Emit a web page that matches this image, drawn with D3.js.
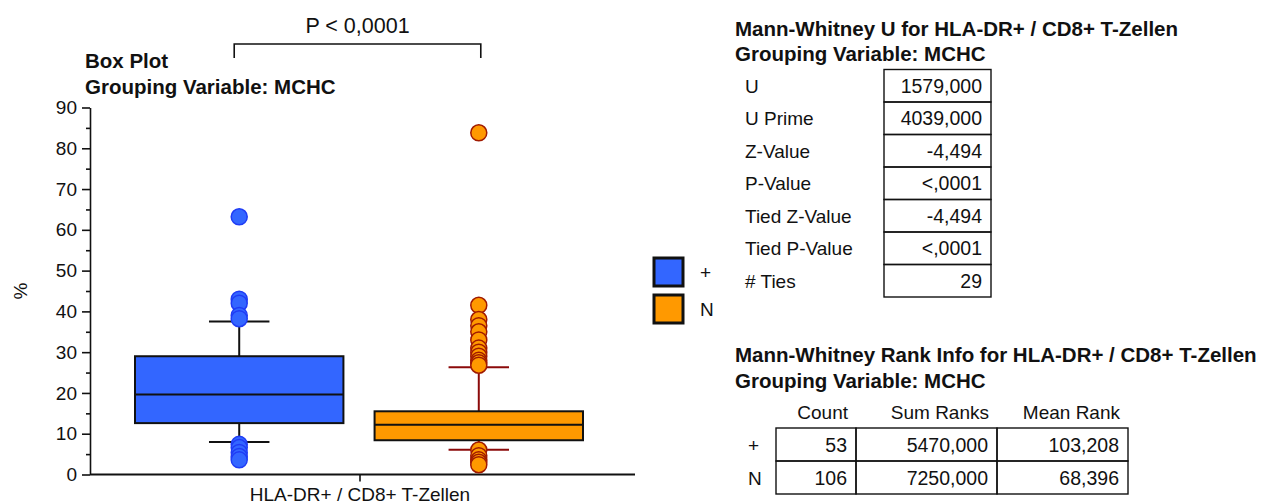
<!DOCTYPE html>
<html>
<head>
<meta charset="utf-8">
<script src="https://cdn.jsdelivr.net/npm/d3@7"></script>
<style>
  body { margin: 0; background: #fff; }
  svg { display: block; }
  text { font-family: "Liberation Sans", Arial, sans-serif; fill: #111; }
  .bold { font-weight: bold; font-size: 20.5px; }
</style>
</head>
<body>
<svg id="chart" width="1270" height="504"></svg>
<script>
// ---- Box plot data (HLA-DR+ / CD8+ T-Zellen, grouped by MCHC) ----
const groups = ["+", "N"];
const q1 = [12.6, 8.4];
const medians = [19.6, 12.2];
const q3 = [29.0, 15.5];
const whiskerLow = [8.0, 6.1];
const whiskerHigh = [37.5, 26.3];
const outliersPlus = [63.2, 43.0, 42.0, 39.0, 38.2, 7.4, 6.6, 5.4, 4.4, 3.6];
const outliersN = [83.8, 41.5, 38.0, 36.5, 35.0, 33.0, 31.0, 30.0, 29.0, 28.0, 27.4, 26.8,
                   6.0, 4.6, 3.6, 3.0, 2.4];
const yTicks = [0, 10, 20, 30, 40, 50, 60, 70, 80, 90];
const yMinorTicks = [5, 15, 25, 35, 45, 55, 65, 75, 85];
const category = "HLA-DR+ / CD8+ T-Zellen";
const pLabel = "P < 0,0001";

// ---- Mann-Whitney U table ----
const statLabels = ["U", "U Prime", "Z-Value", "P-Value", "Tied Z-Value", "Tied P-Value", "# Ties"];
const statValues = ["1579,000", "4039,000", "-4,494", "<,0001", "-4,494", "<,0001", "29"];

// ---- Rank info table ----
const rankHeaders = ["Count", "Sum Ranks", "Mean Rank"];
const rankCounts = ["53", "106"];
const rankSums = ["5470,000", "7250,000"];
const rankMeans = ["103,208", "68,396"];

const fills = ["#3366ff", "#ff9900"];
const dotStroke = ["#1f3cf5", "#a01a00"];
const whiskerColor = ["#111", "#8b0a0a"];

const svg = d3.select("#chart");

// ---------- scales ----------
const y = d3.scaleLinear().domain([0, 90]).range([474.5, 107.5]);
const xCat = d3.scaleBand().domain([category]).range([90, 630]);
const x = d3.scaleBand().domain(groups).range([135, 583]).paddingInner(0.13);
const capW = x.bandwidth() * 0.29;

// ---------- titles ----------
svg.append("text").attr("class", "bold").attr("x", 85).attr("y", 68).text("Box Plot");
svg.append("text").attr("class", "bold").attr("x", 85).attr("y", 94).text("Grouping Variable: MCHC");

// ---------- y axis ----------
const yAxis = svg.append("g").attr("transform", "translate(90,0)")
  .call(d3.axisLeft(y).tickValues(yTicks).tickSize(8).tickSizeOuter(0).tickPadding(5));
yAxis.selectAll("text").style("font-size", "19px").attr("fill", "#111");
yAxis.selectAll("line,path").attr("stroke", "#111").attr("stroke-width", 1.6);
const yMinor = svg.append("g").attr("transform", "translate(90,0)")
  .call(d3.axisLeft(y).tickValues(yMinorTicks).tickSize(4).tickFormat(""));
yMinor.select("path").remove();
yMinor.selectAll("line").attr("stroke", "#111").attr("stroke-width", 1.6);

svg.append("text").attr("transform", "translate(27,291) rotate(-90)")
  .attr("text-anchor", "middle").style("font-size", "19px").text("%");

// ---------- x axis ----------
const xAxis = svg.append("g").attr("transform", `translate(0,${y(0)})`)
  .call(d3.axisBottom(xCat).tickSize(7).tickSizeOuter(0).tickPadding(6));
xAxis.select("path").remove();
xAxis.selectAll("line").attr("stroke", "#111").attr("stroke-width", 1.6);
xAxis.selectAll("text").style("font-size", "19px").attr("fill", "#111");
svg.append("line").attr("x1", 90).attr("x2", 635).attr("y1", y(0)).attr("y2", y(0))
  .attr("stroke", "#111").attr("stroke-width", 2);

// ---------- boxes ----------
const boxes = groups.map((g, i) => ({
  g, i, q1: q1[i], med: medians[i], q3: q3[i], lo: whiskerLow[i], hi: whiskerHigh[i]
}));
const bg = svg.append("g").selectAll("g").data(boxes).join("g");
const cx = d => x(d.g) + x.bandwidth() / 2;

// whisker stems
bg.append("line").attr("x1", cx).attr("x2", cx)
  .attr("y1", d => y(d.hi)).attr("y2", d => y(d.q3))
  .attr("stroke", d => whiskerColor[d.i]).attr("stroke-width", 2);
bg.append("line").attr("x1", cx).attr("x2", cx)
  .attr("y1", d => y(d.q1)).attr("y2", d => y(d.lo))
  .attr("stroke", d => whiskerColor[d.i]).attr("stroke-width", 2);
// caps
["hi", "lo"].forEach(k => {
  bg.append("line").attr("x1", d => cx(d) - capW / 2).attr("x2", d => cx(d) + capW / 2)
    .attr("y1", d => y(d[k])).attr("y2", d => y(d[k]))
    .attr("stroke", d => whiskerColor[d.i]).attr("stroke-width", 2);
});
// box
bg.append("rect").attr("x", d => x(d.g)).attr("width", x.bandwidth())
  .attr("y", d => y(d.q3)).attr("height", d => y(d.q1) - y(d.q3))
  .attr("fill", d => fills[d.i]).attr("stroke", "#111").attr("stroke-width", 2);
// median
bg.append("line").attr("x1", d => x(d.g)).attr("x2", d => x(d.g) + x.bandwidth())
  .attr("y1", d => y(d.med)).attr("y2", d => y(d.med))
  .attr("stroke", "#111").attr("stroke-width", 2);

// outliers
const outlierPts = [
  ...outliersPlus.map(v => ({ g: groups[0], i: 0, v })),
  ...outliersN.map(v => ({ g: groups[1], i: 1, v }))
];
svg.append("g").selectAll("circle").data(outlierPts).join("circle")
  .attr("cx", d => x(d.g) + x.bandwidth() / 2).attr("cy", d => y(d.v)).attr("r", 8)
  .attr("fill", d => fills[d.i]).attr("stroke", d => dotStroke[d.i]).attr("stroke-width", 1.5);

// ---------- significance bracket ----------
const bx1 = x(groups[0]) + x.bandwidth() / 2 - 5;
const bx2 = x(groups[1]) + x.bandwidth() / 2 + 2;
svg.append("path").attr("d", `M${bx1},58V44H${bx2}V58`)
  .attr("fill", "none").attr("stroke", "#111").attr("stroke-width", 1.6);
svg.append("text").attr("x", (bx1 + bx2) / 2).attr("y", 33).attr("text-anchor", "middle")
  .style("font-size", "21.5px").text(pLabel);

// ---------- legend ----------
const lg = svg.append("g").selectAll("g").data(groups).join("g")
  .attr("transform", (d, i) => `translate(654,${258 + i * 37})`);
lg.append("rect").attr("width", 29).attr("height", 28)
  .attr("fill", (d, i) => fills[i]).attr("stroke", "#111").attr("stroke-width", 3);
lg.append("text").attr("x", 46).attr("y", 21).style("font-size", "19px").text(d => d);

// ---------- Mann-Whitney U table ----------
const t1 = svg.append("g");
t1.append("text").attr("class", "bold").attr("x", 735).attr("y", 36)
  .text("Mann-Whitney U for " + category);
t1.append("text").attr("class", "bold").attr("x", 735).attr("y", 61)
  .text("Grouping Variable: MCHC");
const rowH = 32.5, t1Top = 69.5, vx0 = 884, vx1 = 991;
const rows1 = t1.selectAll("g.row").data(statLabels).join("g")
  .attr("class", "row").attr("transform", (d, i) => `translate(0,${t1Top + i * rowH})`);
rows1.append("rect").attr("x", vx0).attr("width", vx1 - vx0).attr("height", rowH)
  .attr("fill", "none").attr("stroke", "#111").attr("stroke-width", 1.4);
rows1.append("text").attr("x", 745).attr("y", rowH / 2 + 7).style("font-size", "19px").text(d => d);
rows1.append("text").attr("x", vx1 - 9).attr("y", rowH / 2 + 7).attr("text-anchor", "end")
  .style("font-size", "19.5px").text((d, i) => statValues[i]);

// ---------- Rank info table ----------
const t2 = svg.append("g");
t2.append("text").attr("class", "bold").attr("x", 735).attr("y", 362)
  .text("Mann-Whitney Rank Info for " + category);
t2.append("text").attr("class", "bold").attr("x", 735).attr("y", 388)
  .text("Grouping Variable: MCHC");
const cols = [776, 856, 997, 1128];
const t2Top = 428, rowH2 = 33;
t2.selectAll("text.hdr").data(rankHeaders).join("text").attr("class", "hdr")
  .attr("x", (d, i) => cols[i + 1] - 8).attr("y", 419).attr("text-anchor", "end")
  .style("font-size", "19px").text(d => d);
const rows2 = t2.selectAll("g.row").data(groups).join("g")
  .attr("class", "row").attr("transform", (d, i) => `translate(0,${t2Top + i * rowH2})`);
rows2.append("text").attr("x", 748).attr("y", rowH2 / 2 + 7).style("font-size", "19px").text(d => d);
rows2.each(function (d, i) {
  const vals = [rankCounts[i], rankSums[i], rankMeans[i]];
  const r = d3.select(this);
  vals.forEach((v, c) => {
    r.append("rect").attr("x", cols[c]).attr("width", cols[c + 1] - cols[c]).attr("height", rowH2)
      .attr("fill", "none").attr("stroke", "#111").attr("stroke-width", 1.4);
    r.append("text").attr("x", cols[c + 1] - 9).attr("y", rowH2 / 2 + 7).attr("text-anchor", "end")
      .style("font-size", "19.5px").text(v);
  });
});
</script>
</body>
</html>
